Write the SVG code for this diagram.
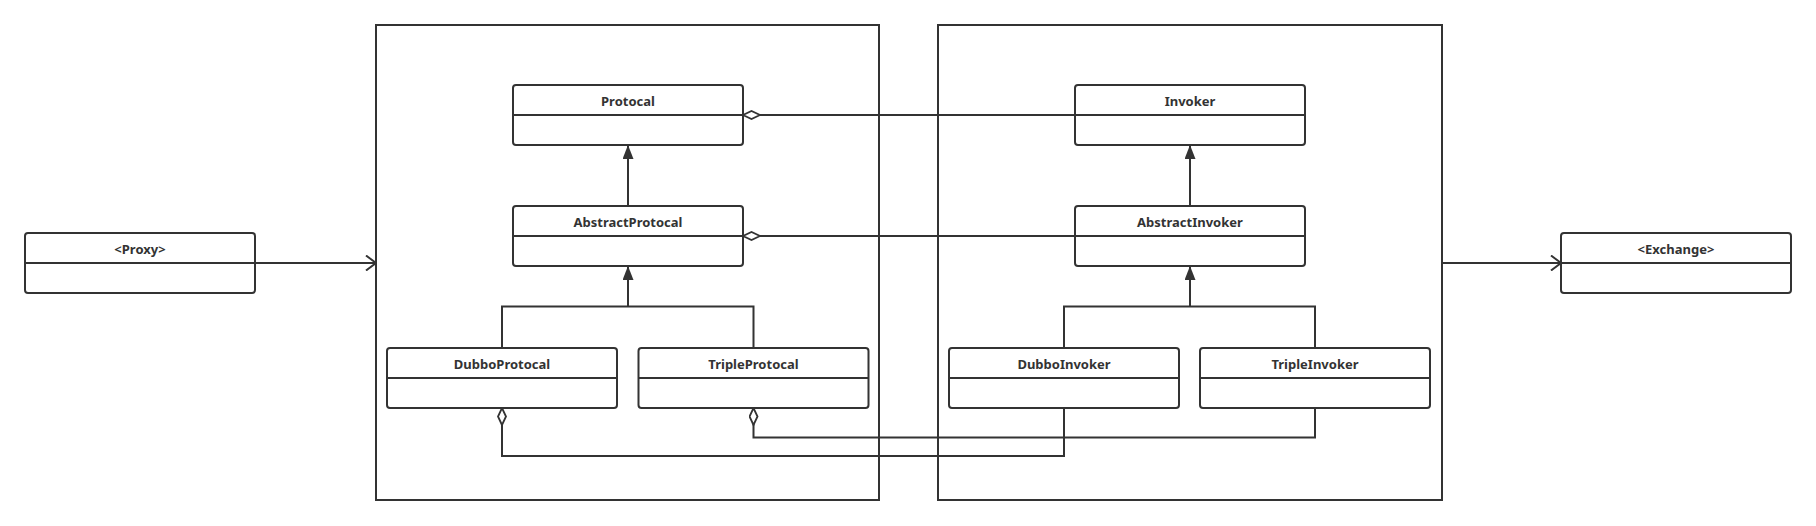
<svg xmlns="http://www.w3.org/2000/svg" width="1816" height="526" viewBox="0 0 1816 526">
<style>
.frame{fill:none;stroke:#333;stroke-width:2}
.box{fill:#fff;stroke:#333;stroke-width:2}
.div{stroke:#333;stroke-width:2}
.lbl{font-family:"Noto Sans","Liberation Sans",sans-serif;font-size:13px;font-weight:bold;fill:#333;text-anchor:middle}
.ln{fill:none;stroke:#333;stroke-width:2}
</style>
<defs>
<marker id="inh" markerWidth="14" markerHeight="11" refX="14" refY="5.5" viewBox="0 0 14 11" orient="auto" markerUnits="userSpaceOnUse">
<path d="M0,0 L14,5.5 L0,11 Z" fill="#333"/>
</marker>
<marker id="open" markerWidth="12" markerHeight="16" refX="11" refY="8" viewBox="0 0 12 16" orient="auto" markerUnits="userSpaceOnUse">
<path d="M1,0.5 L11,8 L1,15.5" fill="none" stroke="#333" stroke-width="2"/>
</marker>
<marker id="agg" markerWidth="19" markerHeight="10" refX="18" refY="5" viewBox="0 0 19 10" orient="auto" markerUnits="userSpaceOnUse">
<path d="M1,5 L9.5,1 L18,5 L9.5,9 Z" fill="#fff" stroke="#333" stroke-width="1.8"/>
</marker>
</defs>

<g id="frame-protocol"><rect class="frame" x="376" y="25" width="503" height="475"/></g>
<g id="frame-invoker"><rect class="frame" x="938" y="25" width="504" height="475"/></g>

<g id="connectors">
<line class="ln" x1="255" y1="263" x2="376" y2="263" marker-end="url(#open)"/>
<line class="ln" x1="1442" y1="263" x2="1561" y2="263" marker-end="url(#open)"/>
<line class="ln" x1="628" y1="206" x2="628" y2="145" marker-end="url(#inh)"/>
<polyline class="ln" points="502,348 502,306.5 753.5,306.5 753.5,348"/>
<line class="ln" x1="628" y1="306.5" x2="628" y2="266" marker-end="url(#inh)"/>
<line class="ln" x1="1190" y1="206" x2="1190" y2="145" marker-end="url(#inh)"/>
<polyline class="ln" points="1064,348 1064,306.5 1315,306.5 1315,348"/>
<line class="ln" x1="1190" y1="306.5" x2="1190" y2="266" marker-end="url(#inh)"/>
<line class="ln" x1="1075" y1="115" x2="743" y2="115" marker-end="url(#agg)"/>
<line class="ln" x1="1075" y1="236" x2="743" y2="236" marker-end="url(#agg)"/>
<polyline class="ln" points="1315,408 1315,437.5 753.5,437.5 753.5,408" marker-end="url(#agg)"/>
<polyline class="ln" points="1064,408 1064,456 502,456 502,408" marker-end="url(#agg)"/>
</g>

<g id="proxy"><rect class="box" x="25" y="233" width="230" height="60" rx="3"/><line class="div" x1="25" y1="263" x2="255" y2="263"/><text class="lbl" x="140" y="254">&lt;Proxy&gt;</text></g>
<g id="exchange"><rect class="box" x="1561" y="233" width="230" height="60" rx="3"/><line class="div" x1="1561" y1="263" x2="1791" y2="263"/><text class="lbl" x="1676" y="254">&lt;Exchange&gt;</text></g>

<g id="protocal"><rect class="box" x="513" y="85" width="230" height="60" rx="3"/><line class="div" x1="513" y1="115" x2="743" y2="115"/><text class="lbl" x="628" y="106">Protocal</text></g>
<g id="abstract-protocal"><rect class="box" x="513" y="206" width="230" height="60" rx="3"/><line class="div" x1="513" y1="236" x2="743" y2="236"/><text class="lbl" x="628" y="227">AbstractProtocal</text></g>
<g id="dubbo-protocal"><rect class="box" x="387" y="348" width="230" height="60" rx="3"/><line class="div" x1="387" y1="378" x2="617" y2="378"/><text class="lbl" x="502" y="369">DubboProtocal</text></g>
<g id="triple-protocal"><rect class="box" x="638.5" y="348" width="230" height="60" rx="3"/><line class="div" x1="638.5" y1="378" x2="868.5" y2="378"/><text class="lbl" x="753.5" y="369">TripleProtocal</text></g>

<g id="invoker"><rect class="box" x="1075" y="85" width="230" height="60" rx="3"/><line class="div" x1="1075" y1="115" x2="1305" y2="115"/><text class="lbl" x="1190" y="106">Invoker</text></g>
<g id="abstract-invoker"><rect class="box" x="1075" y="206" width="230" height="60" rx="3"/><line class="div" x1="1075" y1="236" x2="1305" y2="236"/><text class="lbl" x="1190" y="227">AbstractInvoker</text></g>
<g id="dubbo-invoker"><rect class="box" x="949" y="348" width="230" height="60" rx="3"/><line class="div" x1="949" y1="378" x2="1179" y2="378"/><text class="lbl" x="1064" y="369">DubboInvoker</text></g>
<g id="triple-invoker"><rect class="box" x="1200" y="348" width="230" height="60" rx="3"/><line class="div" x1="1200" y1="378" x2="1430" y2="378"/><text class="lbl" x="1315" y="369">TripleInvoker</text></g>
</svg>
